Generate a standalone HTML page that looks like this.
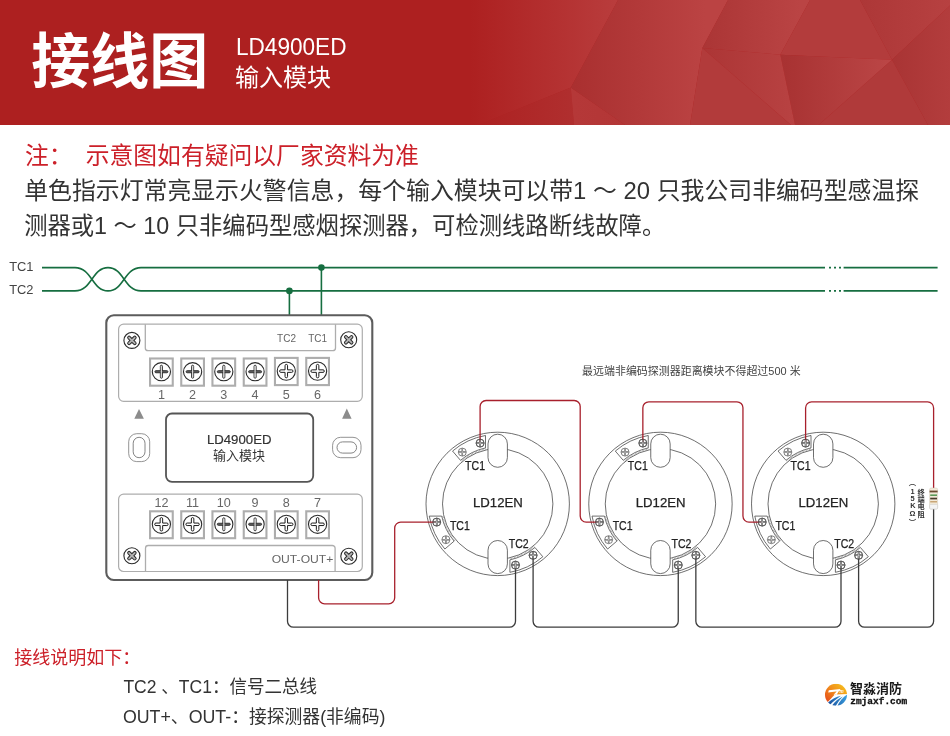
<!DOCTYPE html>
<html lang="zh"><head><meta charset="utf-8"><title>LD4900ED 输入模块 接线图</title>
<style>html,body{margin:0;padding:0;background:#fff}body{width:950px;height:736px;overflow:hidden;font-family:"Liberation Sans",sans-serif}</style>
</head><body>
<svg width="950" height="736" viewBox="0 0 950 736" style="display:block;will-change:transform"><defs><linearGradient id="g0" gradientUnits="userSpaceOnUse" x1="470" y1="0" x2="620" y2="0"><stop offset="0" stop-color="#ad2020"/><stop offset="1" stop-color="#b93d3d"/></linearGradient><linearGradient id="g0b" gradientUnits="userSpaceOnUse" x1="478" y1="0" x2="575" y2="0"><stop offset="0" stop-color="#ad2121"/><stop offset="1" stop-color="#b02f2f"/></linearGradient><linearGradient id="g0c" gradientUnits="userSpaceOnUse" x1="574" y1="0" x2="625" y2="0"><stop offset="0" stop-color="#b53838"/><stop offset="1" stop-color="#b33636"/></linearGradient><linearGradient id="g1" gradientUnits="userSpaceOnUse" x1="575" y1="0" x2="705" y2="0"><stop offset="0" stop-color="#aa3030"/><stop offset="1" stop-color="#bb4343"/></linearGradient><linearGradient id="g2" gradientUnits="userSpaceOnUse" x1="702" y1="0" x2="800" y2="0"><stop offset="0" stop-color="#ab3535"/><stop offset="1" stop-color="#ba4444"/></linearGradient><linearGradient id="g3" gradientUnits="userSpaceOnUse" x1="860" y1="0" x2="950" y2="0"><stop offset="0" stop-color="#ad3737"/><stop offset="1" stop-color="#b74141"/></linearGradient><linearGradient id="g4" gradientUnits="userSpaceOnUse" x1="892" y1="0" x2="950" y2="0"><stop offset="0" stop-color="#a93434"/><stop offset="1" stop-color="#b33d3d"/></linearGradient><linearGradient id="g5" gradientUnits="userSpaceOnUse" x1="782" y1="0" x2="890" y2="0"><stop offset="0" stop-color="#a83232"/><stop offset="1" stop-color="#bb4646"/></linearGradient><linearGradient id="g6" gradientUnits="userSpaceOnUse" x1="702" y1="0" x2="795" y2="0"><stop offset="0" stop-color="#ac3535"/><stop offset="1" stop-color="#b84242"/></linearGradient><linearGradient id="lgo" gradientUnits="userSpaceOnUse" x1="826" y1="702" x2="842" y2="685"><stop offset="0" stop-color="#e5471b"/><stop offset="0.55" stop-color="#f08a1c"/><stop offset="1" stop-color="#f5b81c"/></linearGradient><linearGradient id="lgb" gradientUnits="userSpaceOnUse" x1="828" y1="706" x2="847" y2="695"><stop offset="0" stop-color="#1a4a98"/><stop offset="1" stop-color="#3aa6e6"/></linearGradient><clipPath id="lc"><circle cx="836" cy="694.8" r="11"/></clipPath></defs>
<rect x="0" y="0" width="950" height="125" fill="#ad2020"/>
<polygon points="440,0 618,0 570.8,87.6 478,125 440,125" fill="url(#g0)"/>
<polygon points="478,125 570.8,87.6 574,125" fill="url(#g0b)"/>
<polygon points="574,125 570.8,87.6 625,125" fill="url(#g0c)"/>
<polygon points="570.8,87.6 618,0 728,0 702.3,47.9 690,125 625,125" fill="url(#g1)"/>
<polygon points="702.3,47.9 728,0 810,0 780.3,54.7" fill="url(#g2)"/>
<polygon points="780.3,54.7 810,0 860,0 892,59.7" fill="#b33c3c"/>
<polygon points="892,59.7 860,0 950,0 950,5.5" fill="url(#g3)"/>
<polygon points="892,59.7 950,5.5 950,125 928,125" fill="url(#g4)"/>
<polygon points="780.3,54.7 892,59.7 818.6,125 795,125" fill="url(#g5)"/>
<polygon points="892,59.7 818.6,125 928,125" fill="#b03a3a"/>
<polygon points="702.3,47.9 780.3,54.7 795,125 791,125" fill="url(#g6)"/>
<polygon points="702.3,47.9 791,125 690,125" fill="#b23b3b"/>
<text x="31.2" y="83" font-family="'Liberation Sans', 'Noto Sans CJK SC', sans-serif" font-size="60" font-weight="bold" fill="#ffffff" textLength="177" lengthAdjust="spacingAndGlyphs">接线图</text>
<text x="236" y="55" font-family="'Liberation Sans', 'Noto Sans CJK SC', sans-serif" font-size="24" fill="#ffffff" textLength="110.5" lengthAdjust="spacingAndGlyphs">LD4900ED</text>
<text x="235.0" y="85.5" font-family="'Liberation Sans', 'Noto Sans CJK SC', sans-serif" font-size="24" fill="#ffffff" textLength="96" lengthAdjust="spacingAndGlyphs">输入模块</text>
<text x="24.9" y="163.5" xml:space="preserve" font-family="'Liberation Sans', 'Noto Sans CJK SC', sans-serif" font-size="24" fill="#cc2029" textLength="394" lengthAdjust="spacingAndGlyphs">注：  示意图如有疑问以厂家资料为准</text>
<text x="24.2" y="199" font-family="'Liberation Sans', 'Noto Sans CJK SC', sans-serif" font-size="24" fill="#333333" textLength="895" lengthAdjust="spacingAndGlyphs">单色指示灯常亮显示火警信息，每个输入模块可以带1 ～ 20 只我公司非编码型感温探</text>
<text x="24.2" y="234.3" font-family="'Liberation Sans', 'Noto Sans CJK SC', sans-serif" font-size="24" fill="#333333" textLength="641" lengthAdjust="spacingAndGlyphs">测器或1 ～ 10 只非编码型感烟探测器，可检测线路断线故障。</text>
<path d="M42,267.6 H75 C92,267.6 92,290.9 108,290.9 C124,290.9 124,267.6 141,267.6 H825 M829,267.6h2 M834,267.6h2 M839,267.6h2 M843.6,267.6 H937.6" fill="none" stroke="#166e40" stroke-width="1.6"/>
<path d="M42,290.9 H75 C92,290.9 92,267.6 108,267.6 C124,267.6 124,290.9 141,290.9 H825 M829,290.9h2 M834,290.9h2 M839,290.9h2 M843.6,290.9 H937.6" fill="none" stroke="#166e40" stroke-width="1.6"/>
<path d="M321.4,267.6 V315 M289.4,290.9 V315" fill="none" stroke="#166e40" stroke-width="1.6"/>
<circle cx="321.4" cy="267.6" r="3.3" fill="#166e40"/><circle cx="289.4" cy="290.9" r="3.3" fill="#166e40"/>
<text x="9.2" y="270.6" font-family="'Liberation Sans', sans-serif" font-size="13.4" fill="#444444" text-anchor="start" font-weight="normal" textLength="24.3" lengthAdjust="spacingAndGlyphs" >TC1</text>
<text x="9.2" y="293.9" font-family="'Liberation Sans', sans-serif" font-size="13.4" fill="#444444" text-anchor="start" font-weight="normal" textLength="24.3" lengthAdjust="spacingAndGlyphs" >TC2</text>
<rect x="106.3" y="315.2" width="266" height="264.8" rx="7.5" fill="#fff" stroke="#5c5c5c" stroke-width="2.1"/>
<rect x="118.6" y="324.2" width="243.7" height="77.1" rx="5" fill="none" stroke="#adadad" stroke-width="1.2"/>
<path d="M145.3,324.2 V347.9 a2.8,2.8 0 0 0 2.8,2.8 H332.7 a2.8,2.8 0 0 0 2.8,-2.8 V324.2" fill="none" stroke="#adadad" stroke-width="1.3"/>
<rect x="118.6" y="494.2" width="243.7" height="77.3" rx="5" fill="none" stroke="#adadad" stroke-width="1.2"/>
<path d="M145.5,571.5 V548.3 a2.8,2.8 0 0 1 2.8,-2.8 H332.3 a2.8,2.8 0 0 1 2.8,2.8 V571.5" fill="none" stroke="#adadad" stroke-width="1.3"/>
<rect x="150.05" y="358.5" width="22.7" height="27.2" fill="#fff" stroke="#adadad" stroke-width="2.1"/>
<g transform="translate(161.4,371.7)"><circle r="9.1" fill="#fff" stroke="#2a2a2a" stroke-width="1.1"/>
<path d="M-5.45,-1.05 H5.45 A1.05,1.05 0 0 1 5.45,1.05 H-5.45 A1.05,1.05 0 0 1 -5.45,-1.05 Z" transform="rotate(90)" fill="#c4c4c4" stroke="#2a2a2a" stroke-width="0.9"/>
<path d="M-5.45,-1.05 H5.45 A1.05,1.05 0 0 1 5.45,1.05 H-5.45 A1.05,1.05 0 0 1 -5.45,-1.05 Z" fill="#5e5e5e" stroke="#2a2a2a" stroke-width="0.9"/>
<path d="M0,-5.2V5.2" stroke="#d8d8d8" stroke-width="1.2" stroke-linecap="round"/>
</g>
<text x="161.4" y="398.5" font-family="'Liberation Sans', sans-serif" font-size="12.6" fill="#666666" text-anchor="middle" font-weight="normal" >1</text>
<rect x="150.05" y="511.3" width="22.7" height="26.9" fill="#fff" stroke="#adadad" stroke-width="2.1"/>
<g transform="translate(161.4,524.3)"><circle r="9.1" fill="#fff" stroke="#2a2a2a" stroke-width="1.1"/>
<path d="M-1.25,-5.45 A1.25,1.25 0 0 1 1.25,-5.45 V-1.25 H5.45 A1.25,1.25 0 0 1 5.45,1.25 H1.25 V5.45 A1.25,1.25 0 0 1 -1.25,5.45 V1.25 H-5.45 A1.25,1.25 0 0 1 -5.45,-1.25 H-1.25 Z" fill="#fff" stroke="#1c1c1c" stroke-width="1"/>
</g>
<text x="161.4" y="506.5" font-family="'Liberation Sans', sans-serif" font-size="12.6" fill="#666666" text-anchor="middle" font-weight="normal" >12</text>
<rect x="181.25" y="358.5" width="22.7" height="27.2" fill="#fff" stroke="#adadad" stroke-width="2.1"/>
<g transform="translate(192.6,371.7)"><circle r="9.1" fill="#fff" stroke="#2a2a2a" stroke-width="1.1"/>
<path d="M-5.45,-1.05 H5.45 A1.05,1.05 0 0 1 5.45,1.05 H-5.45 A1.05,1.05 0 0 1 -5.45,-1.05 Z" transform="rotate(90)" fill="#c4c4c4" stroke="#2a2a2a" stroke-width="0.9"/>
<path d="M-5.45,-1.05 H5.45 A1.05,1.05 0 0 1 5.45,1.05 H-5.45 A1.05,1.05 0 0 1 -5.45,-1.05 Z" fill="#5e5e5e" stroke="#2a2a2a" stroke-width="0.9"/>
<path d="M0,-5.2V5.2" stroke="#d8d8d8" stroke-width="1.2" stroke-linecap="round"/>
</g>
<text x="192.6" y="398.5" font-family="'Liberation Sans', sans-serif" font-size="12.6" fill="#666666" text-anchor="middle" font-weight="normal" >2</text>
<rect x="181.25" y="511.3" width="22.7" height="26.9" fill="#fff" stroke="#adadad" stroke-width="2.1"/>
<g transform="translate(192.6,524.3)"><circle r="9.1" fill="#fff" stroke="#2a2a2a" stroke-width="1.1"/>
<path d="M-1.25,-5.45 A1.25,1.25 0 0 1 1.25,-5.45 V-1.25 H5.45 A1.25,1.25 0 0 1 5.45,1.25 H1.25 V5.45 A1.25,1.25 0 0 1 -1.25,5.45 V1.25 H-5.45 A1.25,1.25 0 0 1 -5.45,-1.25 H-1.25 Z" fill="#fff" stroke="#1c1c1c" stroke-width="1"/>
</g>
<text x="192.6" y="506.5" font-family="'Liberation Sans', sans-serif" font-size="12.6" fill="#666666" text-anchor="middle" font-weight="normal" >11</text>
<rect x="212.45" y="358.5" width="22.7" height="27.2" fill="#fff" stroke="#adadad" stroke-width="2.1"/>
<g transform="translate(223.8,371.7)"><circle r="9.1" fill="#fff" stroke="#2a2a2a" stroke-width="1.1"/>
<path d="M-5.45,-1.05 H5.45 A1.05,1.05 0 0 1 5.45,1.05 H-5.45 A1.05,1.05 0 0 1 -5.45,-1.05 Z" transform="rotate(90)" fill="#c4c4c4" stroke="#2a2a2a" stroke-width="0.9"/>
<path d="M-5.45,-1.05 H5.45 A1.05,1.05 0 0 1 5.45,1.05 H-5.45 A1.05,1.05 0 0 1 -5.45,-1.05 Z" fill="#5e5e5e" stroke="#2a2a2a" stroke-width="0.9"/>
<path d="M0,-5.2V5.2" stroke="#d8d8d8" stroke-width="1.2" stroke-linecap="round"/>
</g>
<text x="223.8" y="398.5" font-family="'Liberation Sans', sans-serif" font-size="12.6" fill="#666666" text-anchor="middle" font-weight="normal" >3</text>
<rect x="212.45" y="511.3" width="22.7" height="26.9" fill="#fff" stroke="#adadad" stroke-width="2.1"/>
<g transform="translate(223.8,524.3)"><circle r="9.1" fill="#fff" stroke="#2a2a2a" stroke-width="1.1"/>
<path d="M-5.45,-1.05 H5.45 A1.05,1.05 0 0 1 5.45,1.05 H-5.45 A1.05,1.05 0 0 1 -5.45,-1.05 Z" transform="rotate(90)" fill="#c4c4c4" stroke="#2a2a2a" stroke-width="0.9"/>
<path d="M-5.45,-1.05 H5.45 A1.05,1.05 0 0 1 5.45,1.05 H-5.45 A1.05,1.05 0 0 1 -5.45,-1.05 Z" fill="#5e5e5e" stroke="#2a2a2a" stroke-width="0.9"/>
<path d="M0,-5.2V5.2" stroke="#d8d8d8" stroke-width="1.2" stroke-linecap="round"/>
</g>
<text x="223.8" y="506.5" font-family="'Liberation Sans', sans-serif" font-size="12.6" fill="#666666" text-anchor="middle" font-weight="normal" >10</text>
<rect x="243.75" y="358.5" width="22.7" height="27.2" fill="#fff" stroke="#adadad" stroke-width="2.1"/>
<g transform="translate(255.1,371.7)"><circle r="9.1" fill="#fff" stroke="#2a2a2a" stroke-width="1.1"/>
<path d="M-5.45,-1.05 H5.45 A1.05,1.05 0 0 1 5.45,1.05 H-5.45 A1.05,1.05 0 0 1 -5.45,-1.05 Z" transform="rotate(90)" fill="#c4c4c4" stroke="#2a2a2a" stroke-width="0.9"/>
<path d="M-5.45,-1.05 H5.45 A1.05,1.05 0 0 1 5.45,1.05 H-5.45 A1.05,1.05 0 0 1 -5.45,-1.05 Z" fill="#5e5e5e" stroke="#2a2a2a" stroke-width="0.9"/>
<path d="M0,-5.2V5.2" stroke="#d8d8d8" stroke-width="1.2" stroke-linecap="round"/>
</g>
<text x="255.1" y="398.5" font-family="'Liberation Sans', sans-serif" font-size="12.6" fill="#666666" text-anchor="middle" font-weight="normal" >4</text>
<rect x="243.75" y="511.3" width="22.7" height="26.9" fill="#fff" stroke="#adadad" stroke-width="2.1"/>
<g transform="translate(255.1,524.3)"><circle r="9.1" fill="#fff" stroke="#2a2a2a" stroke-width="1.1"/>
<path d="M-5.45,-1.05 H5.45 A1.05,1.05 0 0 1 5.45,1.05 H-5.45 A1.05,1.05 0 0 1 -5.45,-1.05 Z" transform="rotate(90)" fill="#c4c4c4" stroke="#2a2a2a" stroke-width="0.9"/>
<path d="M-5.45,-1.05 H5.45 A1.05,1.05 0 0 1 5.45,1.05 H-5.45 A1.05,1.05 0 0 1 -5.45,-1.05 Z" fill="#5e5e5e" stroke="#2a2a2a" stroke-width="0.9"/>
<path d="M0,-5.2V5.2" stroke="#d8d8d8" stroke-width="1.2" stroke-linecap="round"/>
</g>
<text x="255.1" y="506.5" font-family="'Liberation Sans', sans-serif" font-size="12.6" fill="#666666" text-anchor="middle" font-weight="normal" >9</text>
<rect x="274.95" y="357.9" width="22.7" height="27.2" fill="#fff" stroke="#adadad" stroke-width="2.1"/>
<g transform="translate(286.3,371.09999999999997)"><circle r="9.1" fill="#fff" stroke="#2a2a2a" stroke-width="1.1"/>
<path d="M-1.25,-5.45 A1.25,1.25 0 0 1 1.25,-5.45 V-1.25 H5.45 A1.25,1.25 0 0 1 5.45,1.25 H1.25 V5.45 A1.25,1.25 0 0 1 -1.25,5.45 V1.25 H-5.45 A1.25,1.25 0 0 1 -5.45,-1.25 H-1.25 Z" fill="#fff" stroke="#1c1c1c" stroke-width="1"/>
</g>
<text x="286.3" y="398.5" font-family="'Liberation Sans', sans-serif" font-size="12.6" fill="#666666" text-anchor="middle" font-weight="normal" >5</text>
<rect x="274.95" y="511.3" width="22.7" height="26.9" fill="#fff" stroke="#adadad" stroke-width="2.1"/>
<g transform="translate(286.3,524.3)"><circle r="9.1" fill="#fff" stroke="#2a2a2a" stroke-width="1.1"/>
<path d="M-1.25,-5.45 A1.25,1.25 0 0 1 1.25,-5.45 V-1.25 H5.45 A1.25,1.25 0 0 1 5.45,1.25 H1.25 V5.45 A1.25,1.25 0 0 1 -1.25,5.45 V1.25 H-5.45 A1.25,1.25 0 0 1 -5.45,-1.25 H-1.25 Z" fill="#fff" stroke="#1c1c1c" stroke-width="1"/>
</g>
<text x="286.3" y="506.5" font-family="'Liberation Sans', sans-serif" font-size="12.6" fill="#666666" text-anchor="middle" font-weight="normal" >8</text>
<rect x="306.25" y="357.9" width="22.7" height="27.2" fill="#fff" stroke="#adadad" stroke-width="2.1"/>
<g transform="translate(317.6,371.09999999999997)"><circle r="9.1" fill="#fff" stroke="#2a2a2a" stroke-width="1.1"/>
<path d="M-1.25,-5.45 A1.25,1.25 0 0 1 1.25,-5.45 V-1.25 H5.45 A1.25,1.25 0 0 1 5.45,1.25 H1.25 V5.45 A1.25,1.25 0 0 1 -1.25,5.45 V1.25 H-5.45 A1.25,1.25 0 0 1 -5.45,-1.25 H-1.25 Z" fill="#fff" stroke="#1c1c1c" stroke-width="1"/>
</g>
<text x="317.6" y="398.5" font-family="'Liberation Sans', sans-serif" font-size="12.6" fill="#666666" text-anchor="middle" font-weight="normal" >6</text>
<rect x="306.25" y="511.3" width="22.7" height="26.9" fill="#fff" stroke="#adadad" stroke-width="2.1"/>
<g transform="translate(317.6,524.3)"><circle r="9.1" fill="#fff" stroke="#2a2a2a" stroke-width="1.1"/>
<path d="M-1.25,-5.45 A1.25,1.25 0 0 1 1.25,-5.45 V-1.25 H5.45 A1.25,1.25 0 0 1 5.45,1.25 H1.25 V5.45 A1.25,1.25 0 0 1 -1.25,5.45 V1.25 H-5.45 A1.25,1.25 0 0 1 -5.45,-1.25 H-1.25 Z" fill="#fff" stroke="#1c1c1c" stroke-width="1"/>
</g>
<text x="317.6" y="506.5" font-family="'Liberation Sans', sans-serif" font-size="12.6" fill="#666666" text-anchor="middle" font-weight="normal" >7</text>
<g transform="translate(131.9,340.4)"><circle r="8" fill="#fff" stroke="#2a2a2a" stroke-width="1.1"/>
<path d="M-1.4,-4.0 A1.4,1.4 0 0 1 1.4,-4.0 V-1.4 H4.0 A1.4,1.4 0 0 1 4.0,1.4 H1.4 V4.0 A1.4,1.4 0 0 1 -1.4,4.0 V1.4 H-4.0 A1.4,1.4 0 0 1 -4.0,-1.4 H-1.4 Z" transform="rotate(45)" fill="#b5b5b5" stroke="#2a2a2a" stroke-width="1"/></g>
<g transform="translate(348.7,339.8)"><circle r="8" fill="#fff" stroke="#2a2a2a" stroke-width="1.1"/>
<path d="M-1.4,-4.0 A1.4,1.4 0 0 1 1.4,-4.0 V-1.4 H4.0 A1.4,1.4 0 0 1 4.0,1.4 H1.4 V4.0 A1.4,1.4 0 0 1 -1.4,4.0 V1.4 H-4.0 A1.4,1.4 0 0 1 -4.0,-1.4 H-1.4 Z" transform="rotate(45)" fill="#b5b5b5" stroke="#2a2a2a" stroke-width="1"/></g>
<g transform="translate(131.9,555.7)"><circle r="8" fill="#fff" stroke="#2a2a2a" stroke-width="1.1"/>
<path d="M-1.4,-4.0 A1.4,1.4 0 0 1 1.4,-4.0 V-1.4 H4.0 A1.4,1.4 0 0 1 4.0,1.4 H1.4 V4.0 A1.4,1.4 0 0 1 -1.4,4.0 V1.4 H-4.0 A1.4,1.4 0 0 1 -4.0,-1.4 H-1.4 Z" transform="rotate(45)" fill="#b5b5b5" stroke="#2a2a2a" stroke-width="1"/></g>
<g transform="translate(348.8,556.2)"><circle r="8" fill="#fff" stroke="#2a2a2a" stroke-width="1.1"/>
<path d="M-1.4,-4.0 A1.4,1.4 0 0 1 1.4,-4.0 V-1.4 H4.0 A1.4,1.4 0 0 1 4.0,1.4 H1.4 V4.0 A1.4,1.4 0 0 1 -1.4,4.0 V1.4 H-4.0 A1.4,1.4 0 0 1 -4.0,-1.4 H-1.4 Z" transform="rotate(45)" fill="#b5b5b5" stroke="#2a2a2a" stroke-width="1"/></g>
<text x="277.1" y="341.6" font-family="'Liberation Sans', sans-serif" font-size="11.5" fill="#666666" text-anchor="start" font-weight="normal" textLength="18.9" lengthAdjust="spacingAndGlyphs" >TC2</text>
<text x="308.2" y="341.6" font-family="'Liberation Sans', sans-serif" font-size="11.5" fill="#666666" text-anchor="start" font-weight="normal" textLength="18.9" lengthAdjust="spacingAndGlyphs" >TC1</text>
<text x="271.7" y="562.7" font-family="'Liberation Sans', sans-serif" font-size="11.5" fill="#666666" text-anchor="start" font-weight="normal" textLength="61.6" lengthAdjust="spacingAndGlyphs" >OUT-OUT+</text>
<path d="M139,409 L143.9,418.7 H134.3 Z M346.8,408.6 L351.6,418.7 H342.1 Z" fill="#8c8c8c"/>
<rect x="128.7" y="433.7" width="21" height="27.9" rx="8" fill="none" stroke="#777777" stroke-width="0.8"/>
<rect x="133.2" y="437.3" width="11.8" height="20.4" rx="5.9" fill="none" stroke="#777777" stroke-width="0.9"/>
<rect x="332.6" y="437.3" width="28.4" height="20.4" rx="8" fill="none" stroke="#777777" stroke-width="0.8"/>
<rect x="337" y="441.9" width="19.6" height="11.2" rx="5.6" fill="none" stroke="#777777" stroke-width="0.9"/>
<rect x="166" y="413.5" width="147.2" height="68.3" rx="6" fill="#fff" stroke="#555" stroke-width="1.8"/>
<text x="206.9" y="443.5" font-family="'Liberation Sans', sans-serif" font-size="12.6" fill="#333333" text-anchor="start" font-weight="normal" textLength="64.6" lengthAdjust="spacingAndGlyphs" stroke="#333" stroke-width="0.2">LD4900ED</text>
<text x="212.9" y="459.7" font-family="'Liberation Sans', 'Noto Sans CJK SC', sans-serif" font-size="13" fill="#333333" textLength="52" lengthAdjust="spacingAndGlyphs">输入模块</text>
<circle cx="497.7" cy="503.9" r="71.7" fill="#fff" stroke="#4a4a4a" stroke-width="0.8"/>
<circle cx="497.7" cy="503.9" r="55.2" fill="none" stroke="#4a4a4a" stroke-width="0.8"/>
<path d="M-12.20,-68.42 A69.5,69.5 0 0 0 -45.14,-52.85 L-37.21,-43.57 A57.3,57.3 0 0 1 -12.20,-55.99 Z" transform="translate(497.7,503.9) rotate(0)" fill="#fff" stroke="#4a4a4a" stroke-width="0.8"/>
<path d="M-12.17,-54.92 A56.25,56.25 0 0 0 -36.53,-42.77" transform="translate(497.7,503.9) rotate(0)" fill="none" stroke="#8a8a8a" stroke-width="1.5" stroke-dasharray="0.55 0.95"/>
<path d="M-12.20,-68.42 A69.5,69.5 0 0 0 -45.14,-52.85 L-37.21,-43.57 A57.3,57.3 0 0 1 -12.20,-55.99 Z" transform="translate(497.7,503.9) rotate(-90)" fill="#fff" stroke="#4a4a4a" stroke-width="0.8"/>
<path d="M-12.17,-54.92 A56.25,56.25 0 0 0 -36.53,-42.77" transform="translate(497.7,503.9) rotate(-90)" fill="none" stroke="#8a8a8a" stroke-width="1.5" stroke-dasharray="0.55 0.95"/>
<path d="M-12.20,-68.42 A69.5,69.5 0 0 0 -45.14,-52.85 L-37.21,-43.57 A57.3,57.3 0 0 1 -12.20,-55.99 Z" transform="translate(497.7,503.9) rotate(180)" fill="#fff" stroke="#4a4a4a" stroke-width="0.8"/>
<path d="M-12.17,-54.92 A56.25,56.25 0 0 0 -36.53,-42.77" transform="translate(497.7,503.9) rotate(180)" fill="none" stroke="#8a8a8a" stroke-width="1.5" stroke-dasharray="0.55 0.95"/>
<g transform="translate(480.10,443.10)"><circle r="4" fill="#fff" stroke="#4a4a4a" stroke-width="0.7"/><path d="M-2.9,0H2.9M0,-2.9V2.9" stroke="#4a4a4a" stroke-width="1.5" stroke-linecap="round"/><path d="M-2.7,0H2.7M0,-2.7V2.7" stroke="#fff" stroke-width="0.5" stroke-linecap="round"/></g>
<g transform="translate(462.30,452.10)"><circle r="4" fill="#fff" stroke="#4a4a4a" stroke-width="0.7"/><path d="M-2.9,0H2.9M0,-2.9V2.9" stroke="#4a4a4a" stroke-width="1.5" stroke-linecap="round"/><path d="M-2.7,0H2.7M0,-2.7V2.7" stroke="#fff" stroke-width="0.5" stroke-linecap="round"/></g>
<g transform="translate(436.70,522.10)"><circle r="4" fill="#fff" stroke="#4a4a4a" stroke-width="0.7"/><path d="M-2.9,0H2.9M0,-2.9V2.9" stroke="#4a4a4a" stroke-width="1.5" stroke-linecap="round"/><path d="M-2.7,0H2.7M0,-2.7V2.7" stroke="#fff" stroke-width="0.5" stroke-linecap="round"/></g>
<g transform="translate(445.90,539.70)"><circle r="4" fill="#fff" stroke="#4a4a4a" stroke-width="0.7"/><path d="M-2.9,0H2.9M0,-2.9V2.9" stroke="#4a4a4a" stroke-width="1.5" stroke-linecap="round"/><path d="M-2.7,0H2.7M0,-2.7V2.7" stroke="#fff" stroke-width="0.5" stroke-linecap="round"/></g>
<g transform="translate(515.50,565.10)"><circle r="4" fill="#fff" stroke="#4a4a4a" stroke-width="0.7"/><path d="M-2.9,0H2.9M0,-2.9V2.9" stroke="#4a4a4a" stroke-width="1.5" stroke-linecap="round"/><path d="M-2.7,0H2.7M0,-2.7V2.7" stroke="#fff" stroke-width="0.5" stroke-linecap="round"/></g>
<g transform="translate(533.10,555.30)"><circle r="4" fill="#fff" stroke="#4a4a4a" stroke-width="0.7"/><path d="M-2.9,0H2.9M0,-2.9V2.9" stroke="#4a4a4a" stroke-width="1.5" stroke-linecap="round"/><path d="M-2.7,0H2.7M0,-2.7V2.7" stroke="#fff" stroke-width="0.5" stroke-linecap="round"/></g>
<rect x="488.0" y="434.2" width="19.4" height="33.1" rx="9.7" fill="#fff" stroke="#4a4a4a" stroke-width="0.8"/>
<rect x="488.0" y="540.5" width="19.4" height="33.1" rx="9.7" fill="#fff" stroke="#4a4a4a" stroke-width="0.8"/>
<text x="465.09999999999997" y="470.4" font-family="'Liberation Sans', sans-serif" font-size="12" fill="#222222" text-anchor="start" font-weight="normal" textLength="19.9" lengthAdjust="spacingAndGlyphs" stroke="#222222" stroke-width="0.25">TC1</text>
<text x="449.9" y="530.4" font-family="'Liberation Sans', sans-serif" font-size="12" fill="#222222" text-anchor="start" font-weight="normal" textLength="19.9" lengthAdjust="spacingAndGlyphs" stroke="#222222" stroke-width="0.25">TC1</text>
<text x="508.8" y="548.1999999999999" font-family="'Liberation Sans', sans-serif" font-size="12" fill="#222222" text-anchor="start" font-weight="normal" textLength="19.9" lengthAdjust="spacingAndGlyphs" stroke="#222222" stroke-width="0.25">TC2</text>
<text x="473.0" y="507.4" font-family="'Liberation Sans', sans-serif" font-size="13" fill="#222222" text-anchor="start" font-weight="normal" textLength="49.8" lengthAdjust="spacingAndGlyphs" stroke="#222222" stroke-width="0.25">LD12EN</text>
<circle cx="660.45" cy="503.9" r="71.7" fill="#fff" stroke="#4a4a4a" stroke-width="0.8"/>
<circle cx="660.45" cy="503.9" r="55.2" fill="none" stroke="#4a4a4a" stroke-width="0.8"/>
<path d="M-12.20,-68.42 A69.5,69.5 0 0 0 -45.14,-52.85 L-37.21,-43.57 A57.3,57.3 0 0 1 -12.20,-55.99 Z" transform="translate(660.45,503.9) rotate(0)" fill="#fff" stroke="#4a4a4a" stroke-width="0.8"/>
<path d="M-12.17,-54.92 A56.25,56.25 0 0 0 -36.53,-42.77" transform="translate(660.45,503.9) rotate(0)" fill="none" stroke="#8a8a8a" stroke-width="1.5" stroke-dasharray="0.55 0.95"/>
<path d="M-12.20,-68.42 A69.5,69.5 0 0 0 -45.14,-52.85 L-37.21,-43.57 A57.3,57.3 0 0 1 -12.20,-55.99 Z" transform="translate(660.45,503.9) rotate(-90)" fill="#fff" stroke="#4a4a4a" stroke-width="0.8"/>
<path d="M-12.17,-54.92 A56.25,56.25 0 0 0 -36.53,-42.77" transform="translate(660.45,503.9) rotate(-90)" fill="none" stroke="#8a8a8a" stroke-width="1.5" stroke-dasharray="0.55 0.95"/>
<path d="M-12.20,-68.42 A69.5,69.5 0 0 0 -45.14,-52.85 L-37.21,-43.57 A57.3,57.3 0 0 1 -12.20,-55.99 Z" transform="translate(660.45,503.9) rotate(180)" fill="#fff" stroke="#4a4a4a" stroke-width="0.8"/>
<path d="M-12.17,-54.92 A56.25,56.25 0 0 0 -36.53,-42.77" transform="translate(660.45,503.9) rotate(180)" fill="none" stroke="#8a8a8a" stroke-width="1.5" stroke-dasharray="0.55 0.95"/>
<g transform="translate(642.85,443.10)"><circle r="4" fill="#fff" stroke="#4a4a4a" stroke-width="0.7"/><path d="M-2.9,0H2.9M0,-2.9V2.9" stroke="#4a4a4a" stroke-width="1.5" stroke-linecap="round"/><path d="M-2.7,0H2.7M0,-2.7V2.7" stroke="#fff" stroke-width="0.5" stroke-linecap="round"/></g>
<g transform="translate(625.05,452.10)"><circle r="4" fill="#fff" stroke="#4a4a4a" stroke-width="0.7"/><path d="M-2.9,0H2.9M0,-2.9V2.9" stroke="#4a4a4a" stroke-width="1.5" stroke-linecap="round"/><path d="M-2.7,0H2.7M0,-2.7V2.7" stroke="#fff" stroke-width="0.5" stroke-linecap="round"/></g>
<g transform="translate(599.45,522.10)"><circle r="4" fill="#fff" stroke="#4a4a4a" stroke-width="0.7"/><path d="M-2.9,0H2.9M0,-2.9V2.9" stroke="#4a4a4a" stroke-width="1.5" stroke-linecap="round"/><path d="M-2.7,0H2.7M0,-2.7V2.7" stroke="#fff" stroke-width="0.5" stroke-linecap="round"/></g>
<g transform="translate(608.65,539.70)"><circle r="4" fill="#fff" stroke="#4a4a4a" stroke-width="0.7"/><path d="M-2.9,0H2.9M0,-2.9V2.9" stroke="#4a4a4a" stroke-width="1.5" stroke-linecap="round"/><path d="M-2.7,0H2.7M0,-2.7V2.7" stroke="#fff" stroke-width="0.5" stroke-linecap="round"/></g>
<g transform="translate(678.25,565.10)"><circle r="4" fill="#fff" stroke="#4a4a4a" stroke-width="0.7"/><path d="M-2.9,0H2.9M0,-2.9V2.9" stroke="#4a4a4a" stroke-width="1.5" stroke-linecap="round"/><path d="M-2.7,0H2.7M0,-2.7V2.7" stroke="#fff" stroke-width="0.5" stroke-linecap="round"/></g>
<g transform="translate(695.85,555.30)"><circle r="4" fill="#fff" stroke="#4a4a4a" stroke-width="0.7"/><path d="M-2.9,0H2.9M0,-2.9V2.9" stroke="#4a4a4a" stroke-width="1.5" stroke-linecap="round"/><path d="M-2.7,0H2.7M0,-2.7V2.7" stroke="#fff" stroke-width="0.5" stroke-linecap="round"/></g>
<rect x="650.75" y="434.2" width="19.4" height="33.1" rx="9.7" fill="#fff" stroke="#4a4a4a" stroke-width="0.8"/>
<rect x="650.75" y="540.5" width="19.4" height="33.1" rx="9.7" fill="#fff" stroke="#4a4a4a" stroke-width="0.8"/>
<text x="627.85" y="470.4" font-family="'Liberation Sans', sans-serif" font-size="12" fill="#222222" text-anchor="start" font-weight="normal" textLength="19.9" lengthAdjust="spacingAndGlyphs" stroke="#222222" stroke-width="0.25">TC1</text>
<text x="612.6500000000001" y="530.4" font-family="'Liberation Sans', sans-serif" font-size="12" fill="#222222" text-anchor="start" font-weight="normal" textLength="19.9" lengthAdjust="spacingAndGlyphs" stroke="#222222" stroke-width="0.25">TC1</text>
<text x="671.5500000000001" y="548.1999999999999" font-family="'Liberation Sans', sans-serif" font-size="12" fill="#222222" text-anchor="start" font-weight="normal" textLength="19.9" lengthAdjust="spacingAndGlyphs" stroke="#222222" stroke-width="0.25">TC2</text>
<text x="635.75" y="507.4" font-family="'Liberation Sans', sans-serif" font-size="13" fill="#222222" text-anchor="start" font-weight="normal" textLength="49.8" lengthAdjust="spacingAndGlyphs" stroke="#222222" stroke-width="0.25">LD12EN</text>
<circle cx="823.2" cy="503.9" r="71.7" fill="#fff" stroke="#4a4a4a" stroke-width="0.8"/>
<circle cx="823.2" cy="503.9" r="55.2" fill="none" stroke="#4a4a4a" stroke-width="0.8"/>
<path d="M-12.20,-68.42 A69.5,69.5 0 0 0 -45.14,-52.85 L-37.21,-43.57 A57.3,57.3 0 0 1 -12.20,-55.99 Z" transform="translate(823.2,503.9) rotate(0)" fill="#fff" stroke="#4a4a4a" stroke-width="0.8"/>
<path d="M-12.17,-54.92 A56.25,56.25 0 0 0 -36.53,-42.77" transform="translate(823.2,503.9) rotate(0)" fill="none" stroke="#8a8a8a" stroke-width="1.5" stroke-dasharray="0.55 0.95"/>
<path d="M-12.20,-68.42 A69.5,69.5 0 0 0 -45.14,-52.85 L-37.21,-43.57 A57.3,57.3 0 0 1 -12.20,-55.99 Z" transform="translate(823.2,503.9) rotate(-90)" fill="#fff" stroke="#4a4a4a" stroke-width="0.8"/>
<path d="M-12.17,-54.92 A56.25,56.25 0 0 0 -36.53,-42.77" transform="translate(823.2,503.9) rotate(-90)" fill="none" stroke="#8a8a8a" stroke-width="1.5" stroke-dasharray="0.55 0.95"/>
<path d="M-12.20,-68.42 A69.5,69.5 0 0 0 -45.14,-52.85 L-37.21,-43.57 A57.3,57.3 0 0 1 -12.20,-55.99 Z" transform="translate(823.2,503.9) rotate(180)" fill="#fff" stroke="#4a4a4a" stroke-width="0.8"/>
<path d="M-12.17,-54.92 A56.25,56.25 0 0 0 -36.53,-42.77" transform="translate(823.2,503.9) rotate(180)" fill="none" stroke="#8a8a8a" stroke-width="1.5" stroke-dasharray="0.55 0.95"/>
<g transform="translate(805.60,443.10)"><circle r="4" fill="#fff" stroke="#4a4a4a" stroke-width="0.7"/><path d="M-2.9,0H2.9M0,-2.9V2.9" stroke="#4a4a4a" stroke-width="1.5" stroke-linecap="round"/><path d="M-2.7,0H2.7M0,-2.7V2.7" stroke="#fff" stroke-width="0.5" stroke-linecap="round"/></g>
<g transform="translate(787.80,452.10)"><circle r="4" fill="#fff" stroke="#4a4a4a" stroke-width="0.7"/><path d="M-2.9,0H2.9M0,-2.9V2.9" stroke="#4a4a4a" stroke-width="1.5" stroke-linecap="round"/><path d="M-2.7,0H2.7M0,-2.7V2.7" stroke="#fff" stroke-width="0.5" stroke-linecap="round"/></g>
<g transform="translate(762.20,522.10)"><circle r="4" fill="#fff" stroke="#4a4a4a" stroke-width="0.7"/><path d="M-2.9,0H2.9M0,-2.9V2.9" stroke="#4a4a4a" stroke-width="1.5" stroke-linecap="round"/><path d="M-2.7,0H2.7M0,-2.7V2.7" stroke="#fff" stroke-width="0.5" stroke-linecap="round"/></g>
<g transform="translate(771.40,539.70)"><circle r="4" fill="#fff" stroke="#4a4a4a" stroke-width="0.7"/><path d="M-2.9,0H2.9M0,-2.9V2.9" stroke="#4a4a4a" stroke-width="1.5" stroke-linecap="round"/><path d="M-2.7,0H2.7M0,-2.7V2.7" stroke="#fff" stroke-width="0.5" stroke-linecap="round"/></g>
<g transform="translate(841.00,565.10)"><circle r="4" fill="#fff" stroke="#4a4a4a" stroke-width="0.7"/><path d="M-2.9,0H2.9M0,-2.9V2.9" stroke="#4a4a4a" stroke-width="1.5" stroke-linecap="round"/><path d="M-2.7,0H2.7M0,-2.7V2.7" stroke="#fff" stroke-width="0.5" stroke-linecap="round"/></g>
<g transform="translate(858.60,555.30)"><circle r="4" fill="#fff" stroke="#4a4a4a" stroke-width="0.7"/><path d="M-2.9,0H2.9M0,-2.9V2.9" stroke="#4a4a4a" stroke-width="1.5" stroke-linecap="round"/><path d="M-2.7,0H2.7M0,-2.7V2.7" stroke="#fff" stroke-width="0.5" stroke-linecap="round"/></g>
<rect x="813.5" y="434.2" width="19.4" height="33.1" rx="9.7" fill="#fff" stroke="#4a4a4a" stroke-width="0.8"/>
<rect x="813.5" y="540.5" width="19.4" height="33.1" rx="9.7" fill="#fff" stroke="#4a4a4a" stroke-width="0.8"/>
<text x="790.6" y="470.4" font-family="'Liberation Sans', sans-serif" font-size="12" fill="#222222" text-anchor="start" font-weight="normal" textLength="19.9" lengthAdjust="spacingAndGlyphs" stroke="#222222" stroke-width="0.25">TC1</text>
<text x="775.4000000000001" y="530.4" font-family="'Liberation Sans', sans-serif" font-size="12" fill="#222222" text-anchor="start" font-weight="normal" textLength="19.9" lengthAdjust="spacingAndGlyphs" stroke="#222222" stroke-width="0.25">TC1</text>
<text x="834.3000000000001" y="548.1999999999999" font-family="'Liberation Sans', sans-serif" font-size="12" fill="#222222" text-anchor="start" font-weight="normal" textLength="19.9" lengthAdjust="spacingAndGlyphs" stroke="#222222" stroke-width="0.25">TC2</text>
<text x="798.5" y="507.4" font-family="'Liberation Sans', sans-serif" font-size="13" fill="#222222" text-anchor="start" font-weight="normal" textLength="49.8" lengthAdjust="spacingAndGlyphs" stroke="#222222" stroke-width="0.25">LD12EN</text>
<path d="M318.6,580 V597.8 a6,6 0 0 0 6,6 H388.7 a6,6 0 0 0 6,-6 V528.10 a6,6 0 0 1 6,-6 H436.70" fill="none" stroke="#a8202c" stroke-width="1.3"/>
<path d="M480.10,443.10 V406.5 a6,6 0 0 1 6,-6 H574.2 a6,6 0 0 1 6,6 V516.10 a6,6 0 0 0 6,6 H599.45" fill="none" stroke="#a8202c" stroke-width="1.3"/>
<path d="M642.85,443.10 V407.8 a6,6 0 0 1 6,-6 H736.95 a6,6 0 0 1 6,6 V516.10 a6,6 0 0 0 6,6 H762.20" fill="none" stroke="#a8202c" stroke-width="1.3"/>
<path d="M805.60,443.10 V407.9 a6,6 0 0 1 6,-6 H927.6 a6,6 0 0 1 6,6 V488" fill="none" stroke="#a8202c" stroke-width="1.3"/>
<path d="M287.5,580 V621.2 a6,6 0 0 0 6,6 H509.50 a6,6 0 0 0 6,-6 V565.10" fill="none" stroke="#3c3c3c" stroke-width="1.3"/>
<path d="M533.10,555.30 V621.2 a6,6 0 0 0 6,6 H672.25 a6,6 0 0 0 6,-6 V565.10" fill="none" stroke="#3c3c3c" stroke-width="1.3"/>
<path d="M695.85,555.30 V621.2 a6,6 0 0 0 6,6 H835.00 a6,6 0 0 0 6,-6 V565.10" fill="none" stroke="#3c3c3c" stroke-width="1.3"/>
<path d="M858.60,555.30 V621.2 a6,6 0 0 0 6,6 H927.6 a6,6 0 0 0 6,-6 V509" fill="none" stroke="#3c3c3c" stroke-width="1.3"/>
<g transform="translate(480.10,443.10)"><circle r="4" fill="none" stroke="#4a4a4a" stroke-width="0.7"/><path d="M-2.9,0H2.9M0,-2.9V2.9" stroke="#4a4a4a" stroke-width="1.5" stroke-linecap="round"/><path d="M-2.7,0H2.7M0,-2.7V2.7" stroke="#fff" stroke-width="0.5" stroke-linecap="round"/></g>
<g transform="translate(436.70,522.10)"><circle r="4" fill="none" stroke="#4a4a4a" stroke-width="0.7"/><path d="M-2.9,0H2.9M0,-2.9V2.9" stroke="#4a4a4a" stroke-width="1.5" stroke-linecap="round"/><path d="M-2.7,0H2.7M0,-2.7V2.7" stroke="#fff" stroke-width="0.5" stroke-linecap="round"/></g>
<g transform="translate(515.50,565.10)"><circle r="4" fill="none" stroke="#4a4a4a" stroke-width="0.7"/><path d="M-2.9,0H2.9M0,-2.9V2.9" stroke="#4a4a4a" stroke-width="1.5" stroke-linecap="round"/><path d="M-2.7,0H2.7M0,-2.7V2.7" stroke="#fff" stroke-width="0.5" stroke-linecap="round"/></g>
<g transform="translate(533.10,555.30)"><circle r="4" fill="none" stroke="#4a4a4a" stroke-width="0.7"/><path d="M-2.9,0H2.9M0,-2.9V2.9" stroke="#4a4a4a" stroke-width="1.5" stroke-linecap="round"/><path d="M-2.7,0H2.7M0,-2.7V2.7" stroke="#fff" stroke-width="0.5" stroke-linecap="round"/></g>
<g transform="translate(642.85,443.10)"><circle r="4" fill="none" stroke="#4a4a4a" stroke-width="0.7"/><path d="M-2.9,0H2.9M0,-2.9V2.9" stroke="#4a4a4a" stroke-width="1.5" stroke-linecap="round"/><path d="M-2.7,0H2.7M0,-2.7V2.7" stroke="#fff" stroke-width="0.5" stroke-linecap="round"/></g>
<g transform="translate(599.45,522.10)"><circle r="4" fill="none" stroke="#4a4a4a" stroke-width="0.7"/><path d="M-2.9,0H2.9M0,-2.9V2.9" stroke="#4a4a4a" stroke-width="1.5" stroke-linecap="round"/><path d="M-2.7,0H2.7M0,-2.7V2.7" stroke="#fff" stroke-width="0.5" stroke-linecap="round"/></g>
<g transform="translate(678.25,565.10)"><circle r="4" fill="none" stroke="#4a4a4a" stroke-width="0.7"/><path d="M-2.9,0H2.9M0,-2.9V2.9" stroke="#4a4a4a" stroke-width="1.5" stroke-linecap="round"/><path d="M-2.7,0H2.7M0,-2.7V2.7" stroke="#fff" stroke-width="0.5" stroke-linecap="round"/></g>
<g transform="translate(695.85,555.30)"><circle r="4" fill="none" stroke="#4a4a4a" stroke-width="0.7"/><path d="M-2.9,0H2.9M0,-2.9V2.9" stroke="#4a4a4a" stroke-width="1.5" stroke-linecap="round"/><path d="M-2.7,0H2.7M0,-2.7V2.7" stroke="#fff" stroke-width="0.5" stroke-linecap="round"/></g>
<g transform="translate(805.60,443.10)"><circle r="4" fill="none" stroke="#4a4a4a" stroke-width="0.7"/><path d="M-2.9,0H2.9M0,-2.9V2.9" stroke="#4a4a4a" stroke-width="1.5" stroke-linecap="round"/><path d="M-2.7,0H2.7M0,-2.7V2.7" stroke="#fff" stroke-width="0.5" stroke-linecap="round"/></g>
<g transform="translate(762.20,522.10)"><circle r="4" fill="none" stroke="#4a4a4a" stroke-width="0.7"/><path d="M-2.9,0H2.9M0,-2.9V2.9" stroke="#4a4a4a" stroke-width="1.5" stroke-linecap="round"/><path d="M-2.7,0H2.7M0,-2.7V2.7" stroke="#fff" stroke-width="0.5" stroke-linecap="round"/></g>
<g transform="translate(841.00,565.10)"><circle r="4" fill="none" stroke="#4a4a4a" stroke-width="0.7"/><path d="M-2.9,0H2.9M0,-2.9V2.9" stroke="#4a4a4a" stroke-width="1.5" stroke-linecap="round"/><path d="M-2.7,0H2.7M0,-2.7V2.7" stroke="#fff" stroke-width="0.5" stroke-linecap="round"/></g>
<g transform="translate(858.60,555.30)"><circle r="4" fill="none" stroke="#4a4a4a" stroke-width="0.7"/><path d="M-2.9,0H2.9M0,-2.9V2.9" stroke="#4a4a4a" stroke-width="1.5" stroke-linecap="round"/><path d="M-2.7,0H2.7M0,-2.7V2.7" stroke="#fff" stroke-width="0.5" stroke-linecap="round"/></g>
<text x="582.1" y="374.5" font-family="'Liberation Sans', 'Noto Sans CJK SC', sans-serif" font-size="11" fill="#444444" textLength="218.5" lengthAdjust="spacingAndGlyphs">最远端非编码探测器距离模块不得超过500 米</text>
<g>
<rect x="929.6" y="488" width="8" height="21" rx="1.5" fill="#f3ead9" stroke="#cfc6b4" stroke-width="0.5"/>
<rect x="929.6" y="490.6" width="8" height="1.8" fill="#6b4a2f"/>
<rect x="930.2" y="494.4" width="6.8" height="1.6" fill="#5c9a58"/>
<rect x="930.2" y="497.7" width="6.8" height="1.7" fill="#4a3a2a"/>
<rect x="930.2" y="501" width="6.8" height="1.5" fill="#c9a676"/>
<rect x="929.6" y="504.4" width="8" height="4.6" rx="1" fill="#f4f4f4" stroke="#c9c9c9" stroke-width="0.5"/>
</g>
<text font-family="'Liberation Sans', 'Noto Sans CJK SC', sans-serif" font-size="7.2" font-weight="bold" fill="#333" text-anchor="middle"><tspan x="921.2" y="494.8">终</tspan><tspan x="921.2" y="502.1">端</tspan><tspan x="921.2" y="509.4">电</tspan><tspan x="921.2" y="516.7">阻</tspan></text>
<text font-family="'Liberation Sans', 'Noto Sans CJK SC', sans-serif" font-size="7.4" font-weight="bold" fill="#333" text-anchor="middle"><tspan x="912.5" y="485.2">︵</tspan><tspan x="912.5" y="493.7">1</tspan><tspan x="912.5" y="501.3">5</tspan><tspan x="912.8" y="507.9">K</tspan><tspan x="912.5" y="516.1">Ω</tspan><tspan x="912.5" y="525.2">︶</tspan></text>
<text x="14.3" y="663.6" font-family="'Liberation Sans', 'Noto Sans CJK SC', sans-serif" font-size="18" fill="#cc2029" textLength="126" lengthAdjust="spacingAndGlyphs">接线说明如下：</text>
<text x="123.4" y="693.1" font-family="'Liberation Sans', 'Noto Sans CJK SC', sans-serif" font-size="18" fill="#333333" textLength="193.5" lengthAdjust="spacingAndGlyphs">TC2 、TC1：信号二总线</text>
<text x="122.9" y="723.2" font-family="'Liberation Sans', 'Noto Sans CJK SC', sans-serif" font-size="18" fill="#333333" textLength="262.5" lengthAdjust="spacingAndGlyphs">OUT+、OUT-：接探测器(非编码)</text>
<g clip-path="url(#lc)">
<rect x="824" y="683" width="24" height="24" fill="url(#lgo)"/>
<path d="M828.8,690.3 L840.4,689.0 L839.7,691.0 L828.2,692.4 Z M837.6,690.6 L840.4,689.0 L836.6,694.8 L833.6,694.8 Z M848,693.9 L834.8,694.4 L825,705 V708 H848 Z" fill="#fff"/>
<path d="M827.8,702.7 C832,699 836,697.1 841,695.8 C837,698.7 832.9,701.8 829.9,704.9 Z" fill="url(#lgb)"/>
<path d="M831.9,705.8 C835,701.4 838.2,698.7 842.9,696.5 C839.7,700 837.3,703.1 835.2,706.9 Z" fill="url(#lgb)"/>
<path d="M836.9,707 C839.4,701.5 842.5,697.5 847.5,694.3 V703 L842,708 Z" fill="url(#lgb)"/>
<text x="839.5" y="693.3" font-family="'Liberation Sans', sans-serif" font-size="4.6" font-weight="bold" font-style="italic" fill="#fff">m</text>
</g>
<text x="850" y="693.3" font-family="'Liberation Sans', 'Noto Sans CJK SC', sans-serif" font-size="13" font-weight="bold" fill="#1a1a1a" textLength="52" lengthAdjust="spacingAndGlyphs">智淼消防</text>
<text x="850.2" y="703.6" font-family="'Liberation Mono', sans-serif" font-size="9.5" fill="#111" text-anchor="start" font-weight="bold" stroke="#111" stroke-width="0.3">zmjaxf.com</text>
</svg>
</body></html>
